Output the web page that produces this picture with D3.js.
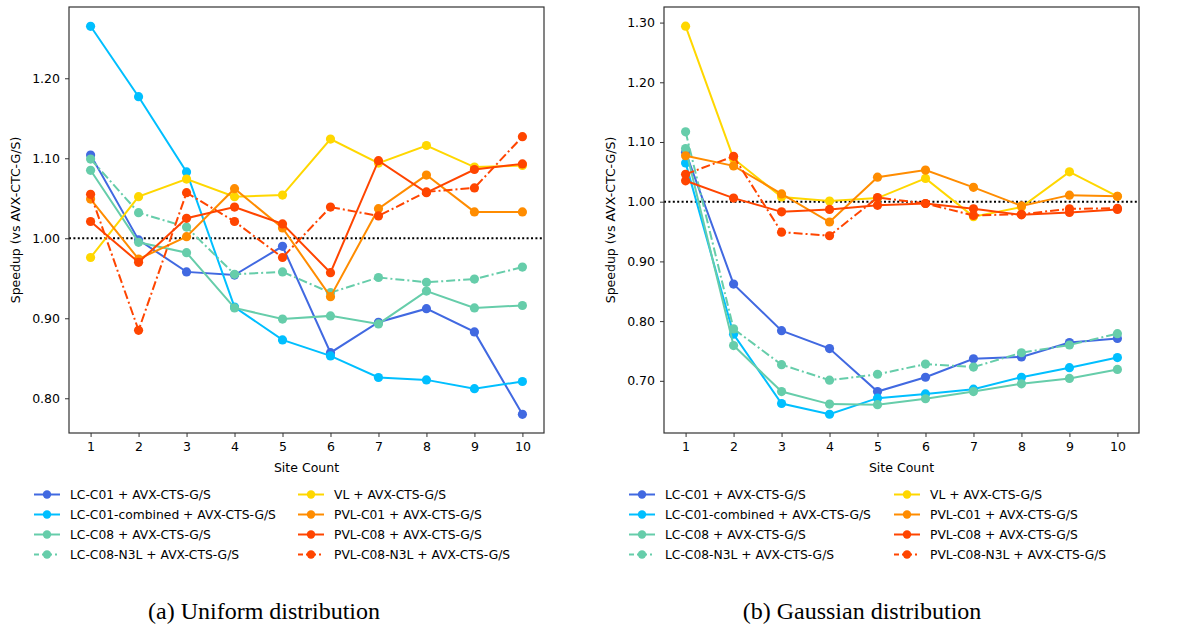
<!DOCTYPE html>
<html><head><meta charset="utf-8">
<script src="https://cdn.jsdelivr.net/npm/d3@7"></script>
<style>
body{margin:0;background:#fff;}
</style></head>
<body><svg id="c" width="1177" height="630"></svg>
<script>
const siteCounts = [1,2,3,4,5,6,7,8,9,10];
const seriesNames = ["LC-C01 + AVX-CTS-G/S","LC-C01-combined + AVX-CTS-G/S","LC-C08 + AVX-CTS-G/S","LC-C08-N3L + AVX-CTS-G/S","VL + AVX-CTS-G/S","PVL-C01 + AVX-CTS-G/S","PVL-C08 + AVX-CTS-G/S","PVL-C08-N3L + AVX-CTS-G/S"];
const seriesColors = ["#4169E1","#00BFFF","#66CDAA","#66CDAA","#FFD700","#FF8C00","#FF4500","#FF4500"];
const seriesDashed = [false,false,false,true,false,false,false,true];

// (a) Uniform distribution
const uniLC01      = [1.104,0.998,0.958,0.954,0.990,0.857,0.895,0.912,0.883,0.780];
const uniLC01comb  = [1.265,1.177,1.083,0.914,0.873,0.853,0.826,0.823,0.812,0.821];
const uniLC08      = [1.085,0.995,0.982,0.913,0.899,0.903,0.893,0.934,0.913,0.916];
const uniLC08N3L   = [1.099,1.032,1.014,0.955,0.958,0.932,0.951,0.945,0.949,0.964];
const uniVL        = [0.976,1.052,1.074,1.052,1.054,1.124,1.094,1.116,1.089,1.091];
const uniPVLC01    = [1.049,0.974,1.002,1.062,1.013,0.927,1.037,1.079,1.033,1.033];
const uniPVLC08    = [1.021,0.970,1.025,1.039,1.018,0.957,1.097,1.057,1.086,1.093];
const uniPVLC08N3L = [1.055,0.885,1.057,1.021,0.976,1.039,1.028,1.058,1.063,1.127];

// (b) Gaussian distribution
const gauLC01      = [1.083,0.862,0.784,0.754,0.682,0.706,0.737,0.740,0.764,0.771];
const gauLC01comb  = [1.065,0.778,0.662,0.644,0.671,0.678,0.686,0.706,0.722,0.739];
const gauLC08      = [1.089,0.759,0.682,0.661,0.660,0.670,0.682,0.695,0.704,0.719];
const gauLC08N3L   = [1.117,0.787,0.727,0.701,0.711,0.728,0.723,0.747,0.760,0.779];
const gauVL        = [1.294,1.072,1.008,1.001,1.006,1.039,0.975,0.991,1.050,1.009];
const gauPVLC01    = [1.077,1.060,1.013,0.966,1.041,1.053,1.024,0.993,1.011,1.009];
const gauPVLC08    = [1.035,1.006,0.983,0.987,0.994,0.997,0.988,0.978,0.982,0.987];
const gauPVLC08N3L = [1.046,1.076,0.949,0.943,1.007,0.997,0.977,0.979,0.988,0.989];

const uniTicks = [0.80,0.90,1.00,1.10,1.20];
const gauTicks = [0.70,0.80,0.90,1.00,1.10,1.20,1.30];

const panels = [
  {series:[uniLC01,uniLC01comb,uniLC08,uniLC08N3L,uniVL,uniPVLC01,uniPVLC08,uniPVLC08N3L],
   x0:69,x1:544,yd:[0.7566,1.2891],ticks:uniTicks,caption:"(a) Uniform distribution",
   legX:[34,298],ylabX:16,capX:264},
  {series:[gauLC01,gauLC01comb,gauLC08,gauLC08N3L,gauVL,gauPVLC01,gauPVLC08,gauPVLC08N3L],
   x0:664,x1:1139,yd:[0.6126,1.3261],ticks:gauTicks,caption:"(b) Gaussian distribution",
   legX:[629,894],ylabX:611,capX:862}
];
const plotTop=7,plotBottom=433;
const svg=d3.select("#c");
const dashPat="9,3,2,3";
const sans="DejaVu Sans";

panels.forEach(p=>{
  const x=d3.scaleLinear().domain([0.55,10.45]).range([p.x0,p.x1]);
  const y=d3.scaleLinear().domain(p.yd).range([plotBottom,plotTop]);
  const g=svg.append("g");
  g.append("line").attr("x1",p.x0).attr("x2",p.x1).attr("y1",y(1)).attr("y2",y(1))
    .attr("stroke","#000").attr("stroke-width",2).attr("stroke-dasharray","2,2.4");
  const line=d3.line().x((d,i)=>x(siteCounts[i])).y(d=>y(d));
  p.series.forEach((vals,k)=>{
    g.append("path").attr("d",line(vals)).attr("fill","none")
      .attr("stroke",seriesColors[k]).attr("stroke-width",2)
      .attr("stroke-dasharray",seriesDashed[k]?dashPat:null);
    g.selectAll(null).data(vals).enter().append("circle")
      .attr("cx",(d,i)=>x(siteCounts[i])).attr("cy",d=>y(d)).attr("r",4.6)
      .attr("fill",seriesColors[k]);
  });
  const xa=g.append("g").attr("transform",`translate(0,${plotBottom})`)
    .call(d3.axisBottom(x).tickValues(siteCounts).tickSize(4).tickPadding(5).tickFormat(d3.format("d")));
  const ya=g.append("g").attr("transform",`translate(${p.x0},0)`)
    .call(d3.axisLeft(y).tickValues(p.ticks).tickSize(4).tickPadding(5).tickFormat(d3.format(".2f")));
  [xa,ya].forEach(a=>{a.select(".domain").remove();
    a.selectAll("text").attr("font-size",12.5).attr("fill","#000").attr("font-family",sans);
    a.selectAll("line").attr("stroke","#333");});
  g.append("rect").attr("x",p.x0).attr("y",plotTop).attr("width",p.x1-p.x0).attr("height",plotBottom-plotTop)
    .attr("fill","none").attr("stroke","#333").attr("stroke-width",1.2);
  g.append("text").attr("x",(p.x0+p.x1)/2).attr("y",472).attr("text-anchor","middle")
    .attr("font-family",sans).attr("font-size",12.5).text("Site Count");
  g.append("text").attr("transform",`translate(${p.ylabX},${(plotTop+plotBottom)/2}) rotate(-90)`)
    .attr("text-anchor","middle").attr("dominant-baseline","middle")
    .attr("font-family",sans).attr("font-size",12.5)
    .text("Speedup (vs AVX-CTC-G/S)");
  seriesNames.forEach((name,k)=>{
    const col=Math.floor(k/4),row=k%4;
    const lx=p.legX[col],ly=494.5+row*20;
    g.append("line").attr("x1",lx).attr("x2",lx+26).attr("y1",ly).attr("y2",ly)
      .attr("stroke",seriesColors[k]).attr("stroke-width",2)
      .attr("stroke-dasharray",seriesDashed[k]?"5,3,2,3":null);
    g.append("circle").attr("cx",lx+13).attr("cy",ly).attr("r",4.2).attr("fill",seriesColors[k]);
    g.append("text").attr("x",lx+36).attr("y",ly).attr("dominant-baseline","central")
      .attr("font-family",sans).attr("font-size",12.3).text(name);
  });
  g.append("text").attr("x",p.capX).attr("y",619).attr("text-anchor","middle")
    .attr("font-family","Liberation Serif").attr("font-size",24).text(p.caption);
});
</script></body></html>
